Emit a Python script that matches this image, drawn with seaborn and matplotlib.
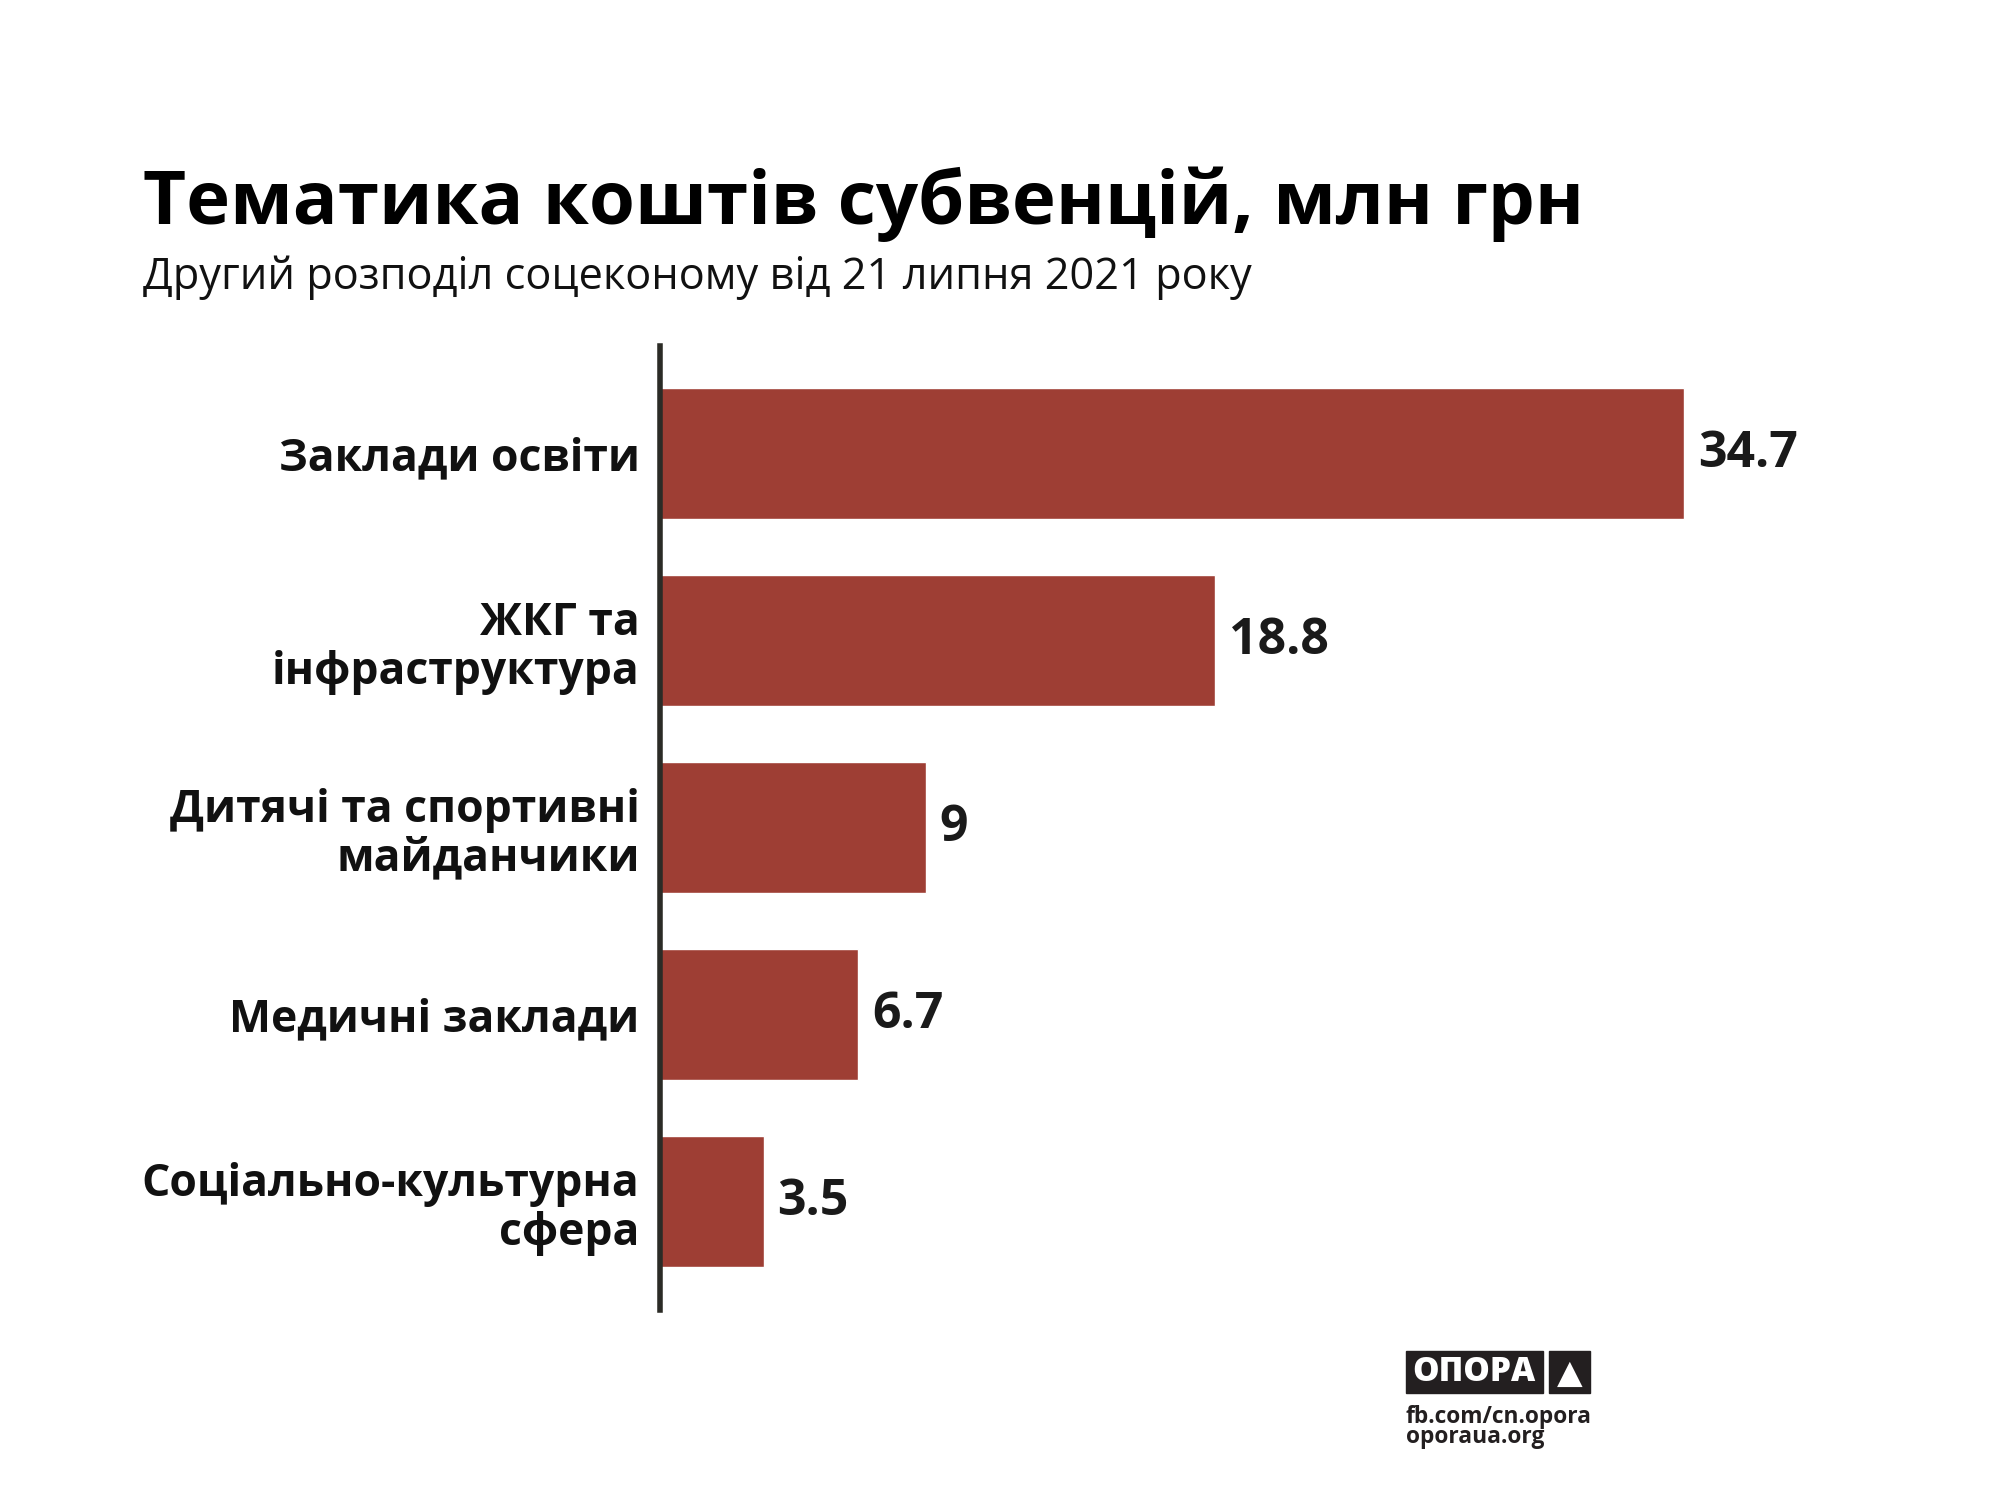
import matplotlib
matplotlib.use("Agg")
import matplotlib.pyplot as plt
import seaborn as sns
import pandas as pd
from matplotlib.patches import Rectangle

# Data
categories = [
    "Заклади освіти",
    "ЖКГ та\nінфраструктура",
    "Дитячі та спортивні\nмайданчики",
    "Медичні заклади",
    "Соціально-культурна\nсфера",
]
values = [34.7, 18.8, 9, 6.7, 3.5]
value_labels = ["34.7", "18.8", "9", "6.7", "3.5"]

title = "Тематика коштів субвенцій, млн грн"
subtitle = "Другий розподіл соцеконому від 21 липня 2021 року"

bar_color = "#9E3E34"
spine_color = "#2b2b26"

sns.set_theme(style="white")
plt.rcParams['font.family'] = ['Open Sans', 'DejaVu Sans']

df = pd.DataFrame({'category': categories, 'value': values})

fig = plt.figure(figsize=(20, 15), dpi=100)
ax = fig.add_axes([0.3302, 0.127, 0.62, 0.642])

sns.barplot(data=df, x='value', y='category', color=bar_color, width=0.7,
            saturation=1, ax=ax)

ax.set_xlim(0, 1240 / 29.5)
ax.set_ylim(4.575, -0.572)
ax.set_xlabel("")
ax.set_ylabel("")
ax.set_xticks([])

for s in ['top', 'right', 'bottom']:
    ax.spines[s].set_visible(False)
ax.spines['left'].set_color(spine_color)
ax.spines['left'].set_linewidth(4)

ax.tick_params(axis='y', length=0, pad=15)
for lbl in ax.get_yticklabels():
    lbl.set_fontsize(32)
    lbl.set_fontweight('bold')
    lbl.set_color('#111111')
    lbl.set_linespacing(1.1)

# value labels
for i, (v, t) in enumerate(zip(values, value_labels)):
    ax.annotate(t, xy=(v, i), xytext=(10, 0), textcoords='offset points',
                ha='left', va='center', fontsize=36, fontweight='bold',
                color='#1a1a1a')

# title and subtitle
fig.text(0.0715, 0.851, title, fontsize=53.6, fontweight='bold',
         color='#000000', ha='left', va='baseline')
fig.text(0.0715, 0.807, subtitle, fontsize=31.2, color='#111111',
         ha='left', va='baseline')

# logo
fig.patches.append(Rectangle((1406 / 2000, 1 - 1393 / 1500), 137 / 2000, 42 / 1500,
                             transform=fig.transFigure, color='#231f20'))
fig.patches.append(Rectangle((1549 / 2000, 1 - 1393 / 1500), 41 / 2000, 42 / 1500,
                             transform=fig.transFigure, color='#231f20'))
fig.text(1474 / 2000, 1 - 1372 / 1500, "ОПОРА", fontsize=24, fontweight='heavy',
         color='white', ha='center', va='center')
fig.text(1569.5 / 2000, 1 - 1373 / 1500, "▲", fontsize=24, color='white',
         ha='center', va='center', family=['DejaVu Sans'])
fig.text(1406 / 2000, 1 - 1417 / 1500, "fb.com/cn.opora", fontsize=16.4,
         fontweight='bold', color='#231f20', ha='left', va='center')
fig.text(1406 / 2000, 1 - 1437 / 1500, "oporaua.org", fontsize=16.4,
         fontweight='bold', color='#231f20', ha='left', va='center')

fig.savefig("out.png", dpi=100, facecolor='white')
